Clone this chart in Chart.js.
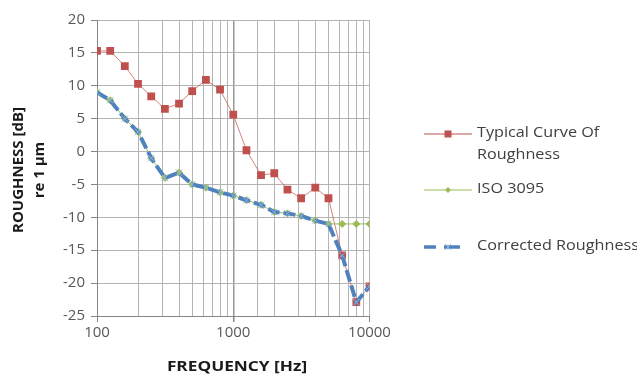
<!DOCTYPE html>
<html>
<head>
<meta charset="utf-8">
<script src="https://cdn.jsdelivr.net/npm/chart.js@4/dist/chart.umd.min.js"></script>
<style>
  html, body { margin: 0; padding: 0; background: #fff; }
  #wrap { width: 637px; height: 378px; }
</style>
</head>
<body>
<div id="wrap"><canvas id="roughChart" width="637" height="378"></canvas></div>
<script>
// Frecuencias (tercios de octava)
const freqs = [100, 125, 160, 200, 250, 315, 400, 500, 630, 800, 1000, 1250, 1600, 2000, 2500, 3150, 4000, 5000, 6300, 8000, 10000];

// Series
const typical = [15.3, 15.3, 13, 10.3, 8.4, 6.5, 7.3, 9.2, 10.9, 9.4, 5.6, 0.2, -3.6, -3.3, -5.8, -7.1, -5.5, -7.1, -15.8, -22.9, -20.5];
const iso3095 = [9, 7.8, 5, 3, -1, -4, -3.2, -5, -5.5, -6.2, -6.7, -7.4, -8.1, -9.2, -9.4, -9.8, -10.5, -11, -11, -11, -11];
const corrected = [9, 7.8, 5, 3, -1, -4, -3.2, -5, -5.5, -6.2, -6.7, -7.4, -8.1, -9.2, -9.4, -9.8, -10.5, -11, -15.8, -22.9, -20.5];

// Etiquetas
const seriesNames = ['Typical Curve Of Roughness', 'ISO 3095', 'Corrected Roughness'];
const xTickLabels = [100, 1000, 10000];
const xTitle = 'FREQUENCY [Hz]';
const yTitle = ['ROUGHNESS [dB]', 're 1 \u03bcm'];

const red = '#C0504D';
const green = '#9BBB59';
const blue = '#4F81BD';
const textColor = '#595959';
const fontFam = '"Open Sans", "Liberation Sans", sans-serif';

const toPoints = (arr) => freqs.map((f, i) => ({ x: f, y: arr[i] }));

// texto algo estirado en horizontal, como en la imagen original
const wideText = (c, txt, x, y, sx) => {
  c.save();
  c.translate(x, y);
  c.scale(sx, 1);
  c.fillText(txt, 0, 0);
  c.restore();
};

// Leyenda y titulos dibujados a mano
const extras = {
  id: 'extras',
  afterDraw(chart) {
    const c = chart.ctx;
    c.save();
    // titulo eje Y
    c.fillStyle = '#1a1a1a';
    c.font = 'bold 15px ' + fontFam;
    c.textAlign = 'center';
    c.textBaseline = 'middle';
    c.save();
    c.translate(19, 170);
    c.rotate(-Math.PI / 2);
    c.fillText(yTitle[0], 0, 0);
    c.restore();
    c.save();
    c.translate(40, 170);
    c.rotate(-Math.PI / 2);
    c.fillText(yTitle[1], 0, 0);
    c.restore();
    // titulo eje X
    wideText(c, xTitle, 237, 367, 1.15);

    // leyenda
    c.font = '15px ' + fontFam;
    c.textAlign = 'left';
    c.fillStyle = '#404040';
    const lx0 = 424, lx1 = 472, mx = 448, tx = 477, sx = 1.08;

    // roja
    c.strokeStyle = red;
    c.lineWidth = 1;
    c.beginPath(); c.moveTo(lx0, 134); c.lineTo(lx1, 134); c.stroke();
    c.fillStyle = red;
    c.fillRect(mx - 3.5, 134 - 3.5, 7, 7);
    c.fillStyle = '#404040';
    wideText(c, 'Typical Curve Of', tx, 133, sx);
    wideText(c, 'Roughness', tx, 155, sx);

    // verde
    c.strokeStyle = green;
    c.beginPath(); c.moveTo(lx0, 190); c.lineTo(lx1, 190); c.stroke();
    c.fillStyle = green;
    c.beginPath();
    c.moveTo(mx, 187); c.lineTo(mx + 3, 190); c.lineTo(mx, 193); c.lineTo(mx - 3, 190);
    c.closePath(); c.fill();
    c.fillStyle = '#404040';
    wideText(c, seriesNames[1], tx, 189, sx);

    // azul
    c.strokeStyle = blue;
    c.lineWidth = 3.5;
    c.beginPath(); c.moveTo(lx0, 247); c.lineTo(lx0 + 12, 247); c.stroke();
    c.beginPath(); c.moveTo(mx - 4, 247); c.lineTo(mx + 12, 247); c.stroke();
    c.strokeStyle = '#8DB4E2';
    c.lineWidth = 1;
    c.beginPath();
    c.moveTo(mx - 3, 244); c.lineTo(mx + 3, 250);
    c.moveTo(mx - 3, 250); c.lineTo(mx + 3, 244);
    c.stroke();
    c.fillStyle = '#404040';
    wideText(c, seriesNames[2], tx, 246, sx);
    c.restore();
  },
};

const ctx = document.getElementById('roughChart').getContext('2d');

new Chart(ctx, {
  type: 'line',
  data: {
    datasets: [
      {
        label: seriesNames[0],
        data: toPoints(typical),
        borderColor: 'rgba(192,80,77,0.7)',
        borderWidth: 1,
        pointStyle: 'rect',
        pointRadius: 5.5,
        pointBackgroundColor: red,
        pointBorderColor: red,
        pointBorderWidth: 0,
        order: 2,
      },
      {
        label: seriesNames[1],
        data: toPoints(iso3095),
        borderColor: green,
        borderWidth: 1,
        pointStyle: 'rectRot',
        pointRadius: 3.5,
        pointBackgroundColor: green,
        pointBorderColor: green,
        order: 1,
      },
      {
        label: seriesNames[2],
        data: toPoints(corrected),
        borderColor: blue,
        borderWidth: 4,
        borderDash: [12, 4],
        pointStyle: 'crossRot',
        pointRadius: 4.5,
        pointBorderColor: '#8DB4E2',
        pointBorderWidth: 1,
        order: 0,
      },
    ],
  },
  options: {
    responsive: false,
    animation: false,
    layout: { padding: { top: 20, right: 267.5, left: 0, bottom: 0 } },
    plugins: {
      legend: { display: false },
      tooltip: { enabled: false },
    },
    elements: { line: { tension: 0 } },
    scales: {
      x: {
        type: 'logarithmic',
        min: 100,
        max: 10000,
        afterFit: (scale) => { scale.height = 62; },
        border: { color: '#868686', width: 1 },
        grid: {
          color: (c) => (c.tick && c.tick.value === 1000 ? '#9a9a9a' : '#b3b3b3'),
          lineWidth: (c) => (c.tick && c.tick.value === 1000 ? 1.5 : 1),
          tickLength: 6,
          tickColor: (c) => (c.tick && xTickLabels.includes(c.tick.value) ? '#868686' : 'rgba(0,0,0,0)'),
        },
        ticks: {
          autoSkip: false,
          maxRotation: 0,
          color: textColor,
          font: { size: 15, family: fontFam },
          padding: 2,
          callback: (v) => (xTickLabels.includes(v) ? String(v) : ''),
        },
      },
      y: {
        min: -25,
        max: 20,
        afterFit: (scale) => { scale.width = 97; },
        border: { color: '#868686', width: 1 },
        grid: { color: '#b3b3b3', tickLength: 6, tickColor: '#868686' },
        ticks: {
          stepSize: 5,
          color: textColor,
          font: { size: 15, family: fontFam },
          padding: 6,
        },
      },
    },
  },
  plugins: [extras],
});
</script>
</body>
</html>
